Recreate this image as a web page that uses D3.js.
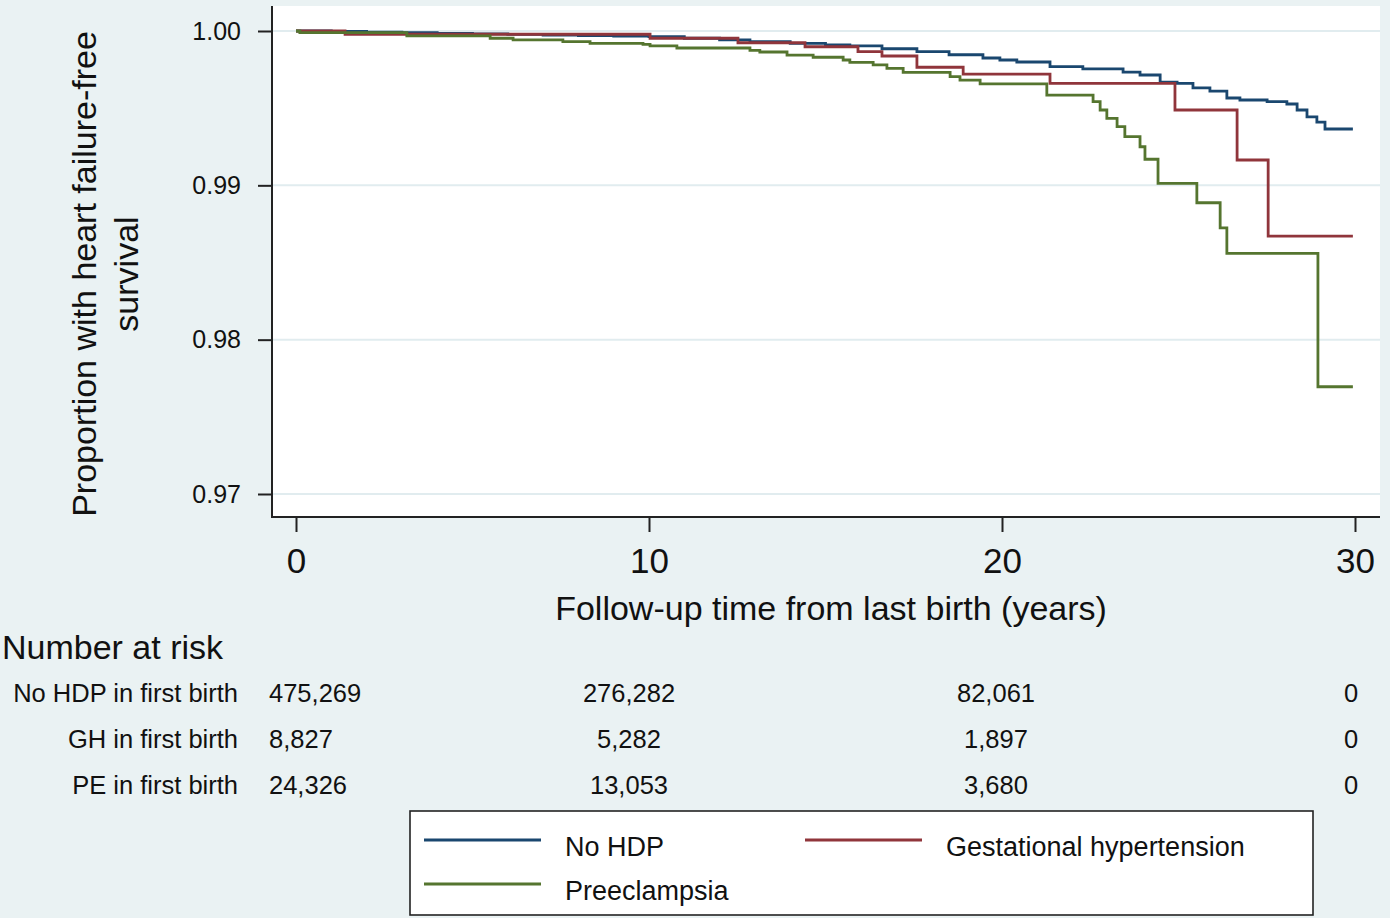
<!DOCTYPE html>
<html>
<head>
<meta charset="utf-8">
<script src="https://cdn.jsdelivr.net/npm/d3@7"></script>
<style>
  html, body { margin: 0; padding: 0; background: #eaf2f3; }
  svg { display: block; font-family: "Liberation Sans", Arial, Helvetica, sans-serif; }
</style>
</head>
<body>
<svg id="chart" width="1390" height="918"></svg>
<script>
// ---------------- data ----------------
const seriesNames = ["No HDP", "Gestational hypertension", "Preeclampsia"];

const noHdpTime = [0, 1, 2, 3, 4, 5, 6, 7, 8, 9, 10, 11, 12, 12.86, 14, 15, 15.69, 16.6, 17.59, 18.5, 19.46, 19.94, 20.42, 21.36, 22.29, 23.43, 23.91, 24.48, 24.96, 25.41, 25.89, 26.37, 26.74, 27.51, 28.07, 28.36, 28.64, 28.92, 29.15, 29.94];
const noHdpSurv = [1.0, 0.99997, 0.99993, 0.99989, 0.99985, 0.99982, 0.99978, 0.99974, 0.99970, 0.99967, 0.99963, 0.99953, 0.99942, 0.99931, 0.99920, 0.99910, 0.99903, 0.99885, 0.99866, 0.99846, 0.99825, 0.99812, 0.99799, 0.99769, 0.99754, 0.99734, 0.99715, 0.99669, 0.99661, 0.99631, 0.99611, 0.99566, 0.99553, 0.99542, 0.99527, 0.99488, 0.99443, 0.99410, 0.99365, 0.99365];

const ghTime = [0, 1.39, 10.03, 12.52, 14.42, 15.92, 16.60, 17.59, 18.90, 21.36, 24.90, 26.66, 27.54, 29.94];
const ghSurv = [1.0, 0.99979, 0.99953, 0.99924, 0.99898, 0.99866, 0.99838, 0.99765, 0.99721, 0.99661, 0.99488, 0.99164, 0.98671, 0.98671];

const peTime = [0, 0.11, 3.14, 5.50, 6.15, 7.56, 8.33, 9.83, 10.03, 10.79, 12.86, 13.14, 13.91, 14.65, 15.50, 15.69, 16.35, 16.74, 17.20, 18.53, 18.81, 19.38, 21.27, 22.58, 22.78, 22.97, 23.26, 23.48, 23.91, 24.05, 24.42, 25.52, 26.18, 26.37, 28.95, 29.94];
const peSurv = [1.0, 0.99989, 0.99968, 0.99953, 0.99942, 0.99931, 0.99920, 0.99913, 0.99903, 0.99890, 0.99874, 0.99864, 0.99844, 0.99830, 0.99812, 0.99797, 0.99780, 0.99758, 0.99732, 0.99704, 0.99682, 0.99657, 0.99585, 0.99542, 0.99488, 0.99434, 0.99380, 0.99315, 0.99250, 0.99169, 0.99013, 0.98887, 0.98725, 0.98559, 0.97695, 0.97695];

const xTicks = [0, 10, 20, 30];
const yTicks = [0.97, 0.98, 0.99, 1.00];

const riskLabels = ["No HDP in first birth", "GH in first birth", "PE in first birth"];
const riskNoHdp = ["475,269", "276,282", "82,061", "0"];
const riskGh = ["8,827", "5,282", "1,897", "0"];
const riskPe = ["24,326", "13,053", "3,680", "0"];

// ---------------- styles ----------------
const colors = ["#1a476f", "#90353b", "#55752f"];
const bg = "#eaf2f3";
const gridColor = "#e1ecef";

const svg = d3.select("#chart");
svg.append("rect").attr("width", 1390).attr("height", 918).attr("fill", bg);

const plot = { left: 272, right: 1380, top: 6, bottom: 517 };
const x = d3.scaleLinear().domain([0, 30]).range([296, 1355]);
const y = d3.scaleLinear().domain([0.97, 1.0]).range([494, 31]);

// plot region
svg.append("rect")
  .attr("x", plot.left).attr("y", plot.top)
  .attr("width", plot.right - plot.left).attr("height", plot.bottom - plot.top)
  .attr("fill", "#ffffff");

// gridlines
svg.append("g").selectAll("line").data(yTicks).join("line")
  .attr("x1", plot.left + 1).attr("x2", plot.right)
  .attr("y1", d => y(d)).attr("y2", d => y(d))
  .attr("stroke", gridColor).attr("stroke-width", 2);

// y axis
const yAxis = svg.append("g")
  .attr("transform", `translate(${plot.left},0)`)
  .call(d3.axisLeft(y).tickValues(yTicks).tickFormat(d3.format(".2f")).tickSize(14).tickPadding(17));
yAxis.select(".domain").remove();
yAxis.selectAll(".tick line").attr("stroke", "#222").attr("stroke-width", 2);
yAxis.selectAll(".tick text").attr("font-size", 25).attr("fill", "#111")
  .attr("font-family", "Liberation Sans, Arial, sans-serif");
svg.append("line").attr("x1", plot.left).attr("x2", plot.left)
  .attr("y1", plot.top).attr("y2", plot.bottom + 1)
  .attr("stroke", "#222").attr("stroke-width", 2);

// x axis
const xAxis = svg.append("g")
  .attr("transform", `translate(0,${plot.bottom})`)
  .call(d3.axisBottom(x).tickValues(xTicks).tickFormat(d3.format("d")).tickSize(15).tickPadding(16));
xAxis.select(".domain").remove();
xAxis.selectAll(".tick line").attr("stroke", "#222").attr("stroke-width", 2);
xAxis.selectAll(".tick text").attr("font-size", 35).attr("fill", "#111")
  .attr("font-family", "Liberation Sans, Arial, sans-serif");
svg.append("line").attr("x1", plot.left - 1).attr("x2", plot.right)
  .attr("y1", plot.bottom).attr("y2", plot.bottom)
  .attr("stroke", "#222").attr("stroke-width", 2);

// curves
const series = [
  { name: seriesNames[0], t: noHdpTime, s: noHdpSurv, color: colors[0] },
  { name: seriesNames[1], t: ghTime, s: ghSurv, color: colors[1] },
  { name: seriesNames[2], t: peTime, s: peSurv, color: colors[2] }
];
const line = d3.line().x(d => x(d[0])).y(d => y(d[1])).curve(d3.curveStepAfter);
svg.append("g").selectAll("path").data(series).join("path")
  .attr("d", d => line(d.t.map((tt, i) => [tt, d.s[i]])))
  .attr("fill", "none").attr("stroke", d => d.color)
  .attr("stroke-width", 2.8).attr("stroke-linejoin", "miter");

// axis titles
const yTitle = svg.append("text")
  .attr("transform", "translate(0,274) rotate(-90)")
  .attr("text-anchor", "middle").attr("font-size", 34).attr("fill", "#111");
yTitle.append("tspan").attr("x", 0).attr("y", 96).text("Proportion with heart failure-free");
yTitle.append("tspan").attr("x", 0).attr("y", 138).text("survival");

svg.append("text").attr("x", 831).attr("y", 620)
  .attr("text-anchor", "middle").attr("font-size", 34).attr("fill", "#111")
  .text("Follow-up time from last birth (years)");

// risk table
svg.append("text").attr("x", 2).attr("y", 659)
  .attr("font-size", 34).attr("fill", "#111").text("Number at risk");

const riskRows = [riskNoHdp, riskGh, riskPe];
const rowY = [702, 748, 794];
const colPos = [
  { x: x(xTicks[0]) - 27, anchor: "start" },
  { x: x(xTicks[1]) - 20, anchor: "middle" },
  { x: x(xTicks[2]) - 6, anchor: "middle" },
  { x: x(xTicks[3]) - 4, anchor: "middle" }
];
riskLabels.forEach((lab, r) => {
  svg.append("text").attr("x", 238).attr("y", rowY[r])
    .attr("text-anchor", "end").attr("font-size", 25.5).attr("fill", "#111").text(lab);
  riskRows[r].forEach((val, c) => {
    svg.append("text").attr("x", colPos[c].x).attr("y", rowY[r])
      .attr("text-anchor", colPos[c].anchor).attr("font-size", 25.5).attr("fill", "#111").text(val);
  });
});

// legend
const lg = svg.append("g");
lg.append("rect").attr("x", 410).attr("y", 811).attr("width", 903).attr("height", 104)
  .attr("fill", "#ffffff").attr("stroke", "#222").attr("stroke-width", 1.6);
const legendItems = [
  { name: seriesNames[0], color: colors[0], lx: 424, ly: 840 },
  { name: seriesNames[1], color: colors[1], lx: 805, ly: 840 },
  { name: seriesNames[2], color: colors[2], lx: 424, ly: 884 }
];
legendItems.forEach(it => {
  lg.append("line").attr("x1", it.lx).attr("x2", it.lx + 117)
    .attr("y1", it.ly).attr("y2", it.ly)
    .attr("stroke", it.color).attr("stroke-width", 2.8);
  lg.append("text").attr("x", it.lx + 141).attr("y", it.ly + 16)
    .attr("font-size", 27).attr("fill", "#111").text(it.name);
});
</script>
</body>
</html>
